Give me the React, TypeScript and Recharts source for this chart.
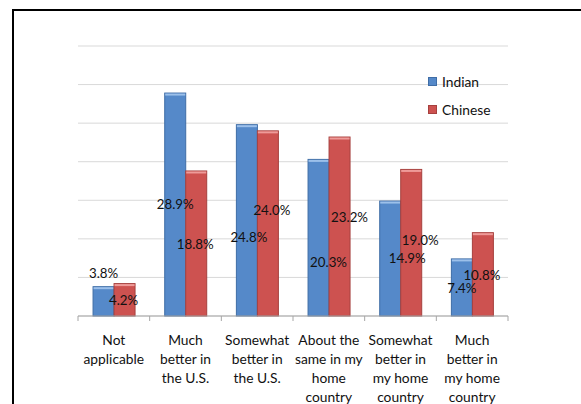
import React from 'react';
import { BarChart, Bar, XAxis, YAxis, CartesianGrid, LabelList } from 'recharts';

const categoryLines: string[][] = [
  ['Not', 'applicable'],
  ['Much', 'better in', 'the U.S.'],
  ['Somewhat', 'better in', 'the U.S.'],
  ['About the', 'same in my', 'home', 'country'],
  ['Somewhat', 'better in', 'my home', 'country'],
  ['Much', 'better in', 'my home', 'country'],
];
const indianValues = [3.8, 28.9, 24.8, 20.3, 14.9, 7.4];
const chineseValues = [4.2, 18.8, 24.0, 23.2, 19.0, 10.8];
const seriesNames = ['Indian', 'Chinese'];
const yTicks = [0, 5, 10, 15, 20, 25, 30, 35];

// label nudges (style only), relative to bar centre
const indianNudge: [number, number][] = [[0, -28], [0, 0], [2, 17], [10, 25], [17, 0], [0, 1]];
const chineseNudge: [number, number][] = [[-1, 1], [-1, 1], [4, -13], [10, -9], [9, -2.5], [-1, 1]];

const data = categoryLines.map((lines, i) => ({
  name: lines.join(' '),
  Indian: indianValues[i],
  Chinese: chineseValues[i],
}));

const FONT = 'Lato, "Open Sans", sans-serif';
const BLUE = { fill: '#5589C9', stroke: '#3F6DA6', hi: '#9CC0EA' };
const RED = { fill: '#CD5250', stroke: '#A6403E', hi: '#EE9B99' };

const makeShape = (c: { fill: string; stroke: string; hi: string }) => (props: any) => {
  const { x, y, width, height } = props;
  if (height <= 0) return null;
  return (
    <g>
      <rect x={x} y={y} width={width} height={height} fill={c.fill} stroke={c.stroke} strokeWidth={1} />
      <rect x={x + 0.5} y={y + 0.5} width={width - 1} height={2} fill={c.hi} />
    </g>
  );
};

const makeLabel = (nudge: [number, number][]) => (props: any) => {
  const { x, y, width, height, value, index } = props;
  const [dx, dy] = nudge[index] || [0, 0];
  return (
    <text
      x={x + width / 2 + dx}
      y={y + height / 2 + dy}
      dy="0.35em"
      textAnchor="middle"
      fontFamily={FONT}
      fontSize={13.3}
      fill="#111"
    >
      {Number(value).toFixed(1)}%
    </text>
  );
};

const AxisTick = (props: any) => {
  const { x, y, index } = props;
  const band = 430 / categoryLines.length;
  const lines = categoryLines[index] || [];
  const left = x - band / 2;
  const right = x + band / 2;
  return (
    <g>
      <line x1={left} y1={y} x2={left} y2={y + 5} stroke="#A6A6A6" />
      {index === categoryLines.length - 1 && (
        <line x1={right} y1={y} x2={right} y2={y + 5} stroke="#A6A6A6" />
      )}
      <text textAnchor="middle" fontFamily={FONT} fontSize={13.8} fill="#111">
        {lines.map((l, i) => (
          <tspan key={i} x={x} y={y + 29 + i * 19}>
            {l}
          </tspan>
        ))}
      </text>
    </g>
  );
};

const LegendBox = () => {
  const colors = [BLUE, RED];
  return (
    <div style={{ position: 'absolute', left: 428, top: 68, fontFamily: FONT, fontSize: 13.8, color: '#111' }}>
      {seriesNames.map((n, i) => (
        <div key={n} style={{ display: 'flex', alignItems: 'center', height: 27.5 }}>
          <span
            style={{
              display: 'inline-block',
              width: 7,
              height: 7,
              background: colors[i].fill,
              border: `0.5px solid ${colors[i].stroke}`,
              marginRight: 5,
            }}
          />
          <span>{n}</span>
        </div>
      ))}
    </div>
  );
};

export default function App() {
  return (
    <div style={{ position: 'absolute', left: 0, top: 0, width: 581, height: 404, background: '#fff', overflow: 'hidden' }}>
      <div
        style={{
          position: 'absolute',
          left: 12,
          top: 9,
          width: 600,
          height: 420,
          borderLeft: '2.5px solid #000',
          borderTop: '2.5px solid #000',
          boxSizing: 'border-box',
        }}
      />
      <div style={{ position: 'absolute', left: 0, top: 0 }}>
        <BarChart
          width={581}
          height={404}
          data={data}
          margin={{ top: 46, right: 73, left: 78, bottom: 0 }}
          barCategoryGap="21%"
          barGap={0}
        >
          <CartesianGrid horizontal vertical={false} stroke="#D9D9D9" strokeWidth={1} />
          <YAxis hide domain={[0, 35]} ticks={yTicks} type="number" />
          <XAxis
            dataKey="name"
            height={88}
            axisLine={{ stroke: '#A6A6A6' }}
            tickLine={false}
            tickSize={0}
            tickMargin={0}
            interval={0}
            tick={<AxisTick />}
          />
          <Bar dataKey="Indian" isAnimationActive={false} shape={makeShape(BLUE)}>
            <LabelList dataKey="Indian" content={makeLabel(indianNudge)} />
          </Bar>
          <Bar dataKey="Chinese" isAnimationActive={false} shape={makeShape(RED)}>
            <LabelList dataKey="Chinese" content={makeLabel(chineseNudge)} />
          </Bar>
        </BarChart>
      </div>
      <LegendBox />
    </div>
  );
}
